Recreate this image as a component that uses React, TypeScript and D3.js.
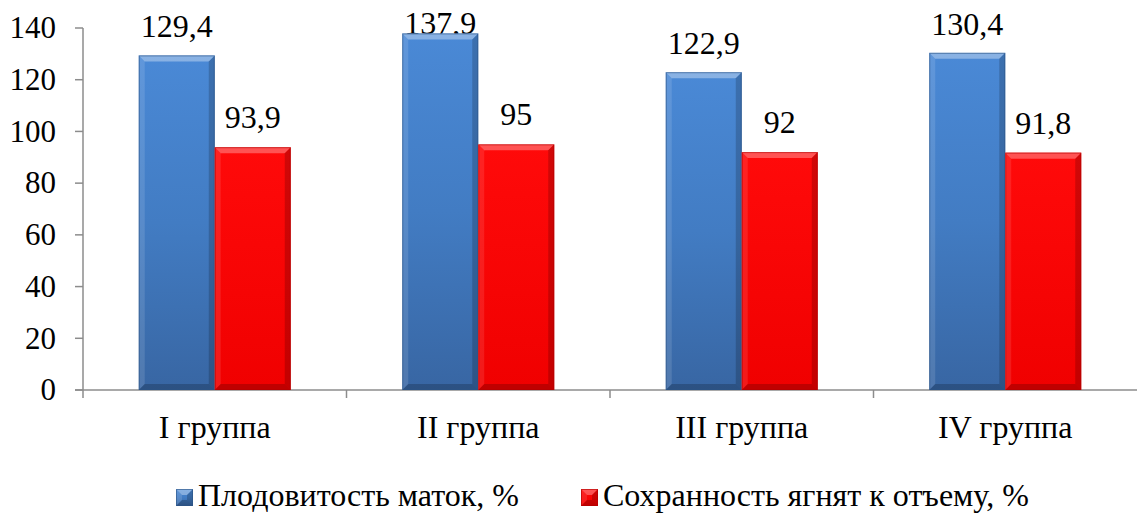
import React from "react";
import * as d3 from "d3";

const categories = ["I группа", "II группа", "III группа", "IV группа"];
const fertility = [129.4, 137.9, 122.9, 130.4];
const survival = [93.9, 95, 92, 91.8];
const fertilityLabels = ["129,4", "137,9", "122,9", "130,4"];
const survivalLabels = ["93,9", "95", "92", "91,8"];
const yTicks = [0, 20, 40, 60, 80, 100, 120, 140];
const seriesNames = ["Плодовитость маток, %", "Сохранность ягнят к отъему, %"];

const W = 1137;
const H = 517;
const txt = { fontFamily: '"Liberation Serif"' };

function Bar({ x, y, w, h, kind }: { x: number; y: number; w: number; h: number; kind: "b" | "r" }) {
  const b = Math.min(6, h / 2);
  const fill = kind === "b" ? "url(#gBlue)" : "url(#gRed)";
  const topC = kind === "b" ? "rgba(255,255,255,0.35)" : "rgba(255,255,255,0.3)";
  const sideL = kind === "b" ? "rgba(255,255,255,0.12)" : "rgba(255,255,255,0.1)";
  const sideR = "rgba(0,0,0,0.18)";
  const bottom = "rgba(0,0,0,0.2)";
  const stroke = kind === "b" ? "#2c5384" : "#b00000";
  return (
    <g>
      <rect x={x} y={y} width={w} height={h} fill={fill} />
      <polygon points={`${x},${y} ${x + w},${y} ${x + w - b},${y + b} ${x + b},${y + b}`} fill={topC} />
      <polygon points={`${x},${y} ${x + b},${y + b} ${x + b},${y + h - b} ${x},${y + h}`} fill={sideL} />
      <polygon points={`${x + w},${y} ${x + w - b},${y + b} ${x + w - b},${y + h - b} ${x + w},${y + h}`} fill={sideR} />
      <polygon points={`${x},${y + h} ${x + b},${y + h - b} ${x + w - b},${y + h - b} ${x + w},${y + h}`} fill={bottom} />
      <rect x={x + 0.5} y={y + 0.5} width={w - 1} height={h - 1} fill="none" stroke={stroke} strokeWidth={1} strokeOpacity={0.6} />
    </g>
  );
}

export default function App() {
  const left = 83;
  const right = 1137;
  const y = d3.scaleLinear().domain([0, 140]).range([390, 28]);
  const x0 = d3.scaleBand().domain(categories).range([left, right]).paddingInner(0).paddingOuter(0);
  const barW = 76;

  return (
    <svg width={W} height={H} style={{ position: "absolute", left: 0, top: 0, background: "#fff" }}>
      <defs>
        <linearGradient id="gBlue" x1="0" y1="0" x2="0" y2="1">
          <stop offset="0" stopColor="#4a89d6" />
          <stop offset="0.5" stopColor="#427cc3" />
          <stop offset="1" stopColor="#3866a3" />
        </linearGradient>
        <linearGradient id="gRed" x1="0" y1="0" x2="0" y2="1">
          <stop offset="0" stopColor="#ff0a0a" />
          <stop offset="1" stopColor="#f00000" />
        </linearGradient>
      </defs>
      <rect x={0} y={0} width={W} height={H} fill="#fff" />

      {/* axes */}
      <line x1={left} y1={y(140)} x2={left} y2={398} stroke="#8c8c8c" strokeWidth={1.5} />
      <line x1={75} y1={y(0)} x2={right} y2={y(0)} stroke="#8c8c8c" strokeWidth={1.5} />
      {yTicks.map((t) => (
        <g key={t}>
          <line x1={75} x2={left} y1={y(t)} y2={y(t)} stroke="#8c8c8c" strokeWidth={1.5} />
          <text x={56} y={y(t)} dy="0.33em" textAnchor="end" fontSize={31} fill="#000" style={txt}>
            {t}
          </text>
        </g>
      ))}
      {categories.map((c, i) => {
        const bx = (x0(c) as number) + x0.bandwidth();
        return i < categories.length - 1 ? (
          <line key={"t" + c} x1={bx} x2={bx} y1={y(0)} y2={398} stroke="#8c8c8c" strokeWidth={1.5} />
        ) : null;
      })}

      {categories.map((c, i) => {
        const cx = (x0(c) as number) + x0.bandwidth() / 2;
        const bxB = cx - barW;
        const bxR = cx;
        const yB = y(fertility[i]);
        const yR = y(survival[i]);
        const labB = Math.max(yB - 18, 34);
        return (
          <g key={c}>
            <text x={bxB + barW / 2} y={labB} textAnchor="middle" fontSize={32} fill="#000" style={txt}>
              {fertilityLabels[i]}
            </text>
            <text x={bxR + barW / 2} y={yR - 19} textAnchor="middle" fontSize={32} fill="#000" style={txt}>
              {survivalLabels[i]}
            </text>
            <Bar x={bxB} y={yB} w={barW} h={y(0) - yB} kind="b" />
            <Bar x={bxR} y={yR} w={barW} h={y(0) - yR} kind="r" />
            <text x={cx} y={438} textAnchor="middle" fontSize={32} fill="#000" style={txt}>
              {c}
            </text>
          </g>
        );
      })}

      {/* legend */}
      <Bar x={176} y={489} w={17} h={17} kind="b" />
      <text x={198} y={506} fontSize={32} fill="#000" style={txt}>{seriesNames[0]}</text>
      <Bar x={581} y={489} w={17} h={17} kind="r" />
      <text x={603} y={506} fontSize={32} fill="#000" style={txt}>{seriesNames[1]}</text>
    </svg>
  );
}
